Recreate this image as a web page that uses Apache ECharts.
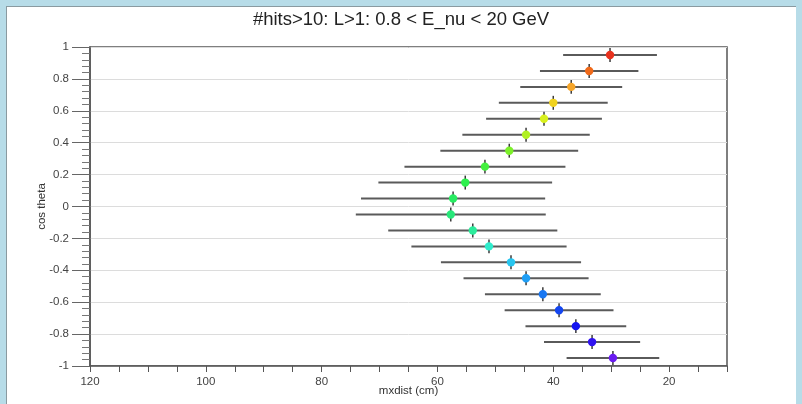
<!DOCTYPE html>
<html>
<head>
<meta charset="utf-8">
<script src="https://cdn.jsdelivr.net/npm/echarts@6/dist/echarts.min.js"></script>
<style>
  html, body { margin: 0; padding: 0; background: #b7dce8; }
  #frame { position: absolute; left: 6px; top: 6px; width: 790px; height: 400px; background: #fff; border-left: 1px solid #8a9aa0; border-top: 1px solid #8a9aa0; box-sizing: border-box; }
  #chart { position: absolute; left: 0; top: 0; width: 802px; height: 404px; }
</style>
</head>
<body>
<div id="frame"></div>
<div id="chart"></div>
<script>
// ---- data ----
const titleText = '#hits>10: L>1: 0.8 < E_nu < 20 GeV';
const cosTheta = [-0.95, -0.85, -0.75, -0.65, -0.55, -0.45, -0.35, -0.25, -0.15, -0.05,
                   0.05,  0.15,  0.25,  0.35,  0.45,  0.55,  0.65,  0.75,  0.85,  0.95];
const cosHalfWidth = [0.05, 0.05, 0.05, 0.05, 0.05, 0.05, 0.05, 0.05, 0.05, 0.05,
                      0.05, 0.05, 0.05, 0.05, 0.05, 0.05, 0.05, 0.05, 0.05, 0.05];
const mxdistMean = [29.7, 33.3, 36.1, 39.0, 41.8, 44.7, 47.3, 51.1, 53.9, 57.7,
                    57.3, 55.2, 51.8, 47.6, 44.7, 41.6, 40.0, 36.9, 33.8, 30.2];
const mxdistErr  = [8.0, 8.3, 8.7, 9.4, 10.0, 10.8, 12.1, 13.4, 14.6, 16.4,
                    15.9, 15.0, 13.9, 11.9, 11.0, 10.0, 9.4, 8.8, 8.5, 8.1];
const xTickLabels = [120, 100, 80, 60, 40, 20];
const yTickLabels = [-1, -0.8, -0.6, -0.4, -0.2, 0, 0.2, 0.4, 0.6, 0.8, 1];

// ---- styles ----
const pointColors = ['#6a1cf0', '#3012f0', '#1414f0', '#1446f0', '#1a78f2', '#1e9ef5',
                     '#28c6f0', '#30eccc', '#2cec9c', '#28e87a', '#28ec62', '#2ef04e',
                     '#44f040', '#7cf02a', '#b0f022', '#d8f01e', '#f0d21e', '#f5a52a',
                     '#f06a1a', '#e8321e'];
const FONT = '"Liberation Sans", Arial, sans-serif';

const seriesData = cosTheta.map((c, i) => [mxdistMean[i], c, mxdistErr[i], cosHalfWidth[i], i]);

const chart = echarts.init(document.getElementById('chart'), null, { renderer: 'canvas' });
chart.setOption({
  animation: false,
  backgroundColor: 'transparent',
  title: {
    text: titleText, left: 'center', top: 5,
    textStyle: { fontFamily: FONT, fontSize: 18.5, fontWeight: 'normal', color: '#222' }
  },
  grid: { left: 90, right: 75, top: 47, bottom: 38, outerBoundsMode: 'none', containLabel: false,
          show: true, borderColor: '#555', borderWidth: 1.5, backgroundColor: 'transparent' },
  xAxis: {
    type: 'value', min: 10, max: 120, interval: 5, inverse: true,
    name: 'mxdist (cm)', nameLocation: 'middle', nameGap: 19, nameMoveOverlap: false,
    nameTextStyle: { fontFamily: FONT, fontSize: 11.5, color: '#333' },
    axisLine: { show: true, onZero: false, lineStyle: { color: '#555', width: 1.5 } },
    axisTick: { show: true, length: 6, lineStyle: { color: '#555' } },
    axisLabel: {
      fontFamily: FONT, fontSize: 11.5, color: '#444', margin: 10,
      formatter: v => (xTickLabels.indexOf(v) >= 0 ? String(v) : '')
    },
    splitLine: { show: false }
  },
  yAxis: {
    type: 'value', min: -1, max: 1, interval: 0.2,
    name: 'cos theta', nameLocation: 'middle', nameGap: 42, nameMoveOverlap: false,
    nameTextStyle: { fontFamily: FONT, fontSize: 11.5, color: '#333' },
    axisLine: { show: true, lineStyle: { color: '#555', width: 1.5 } },
    axisTick: { show: true, length: 18, lineStyle: { color: '#666' } },
    minorTick: { show: true, splitNumber: 5, length: 8, lineStyle: { color: '#777' } },
    axisLabel: {
      fontFamily: FONT, fontSize: 11.5, color: '#444', margin: 21,
      formatter: v => { const r = Math.round(v * 10) / 10; return yTickLabels.indexOf(r) >= 0 ? String(r) : ''; }
    },
    splitLine: { show: true, lineStyle: { color: '#dcdcdc', width: 1 } }
  },
  series: [{
    type: 'custom',
    data: seriesData,
    encode: { x: 0, y: 1 },
    renderItem: function (params, api) {
      const xm = api.value(0), y = api.value(1), xe = api.value(2), ye = api.value(3), idx = api.value(4);
      const pL = api.coord([xm + xe, y]);
      const pR = api.coord([xm - xe, y]);
      const pC = api.coord([xm, y]);
      const pT = api.coord([xm, y + ye]);
      const pB = api.coord([xm, y - ye]);
      return {
        type: 'group',
        children: [
          { type: 'line', shape: { x1: pL[0], y1: pL[1], x2: pR[0], y2: pR[1] }, style: { stroke: '#5a5a5a', lineWidth: 2 } },
          { type: 'line', shape: { x1: pT[0], y1: pT[1] + 1, x2: pB[0], y2: pB[1] - 1 }, style: { stroke: '#3a3a3a', lineWidth: 1.5 } },
          { type: 'circle', shape: { cx: pC[0], cy: pC[1], r: 4.2 }, style: { fill: pointColors[idx], stroke: null } }
        ]
      };
    }
  }]
});
</script>
</body>
</html>
